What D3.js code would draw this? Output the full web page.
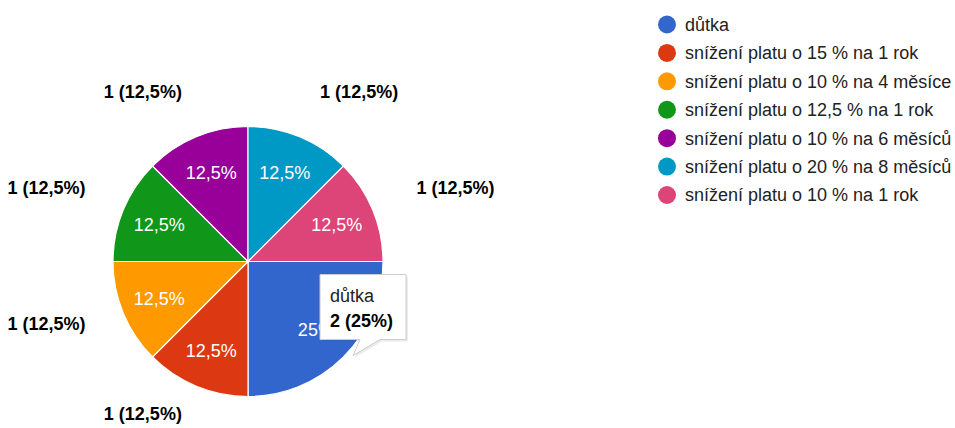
<!DOCTYPE html>
<html>
<head>
<meta charset="utf-8">
<script src="https://cdn.jsdelivr.net/npm/d3@7"></script>
<style>
  html, body { margin: 0; padding: 0; background: #fff; }
  svg { display: block; font-family: Arial, "Liberation Sans", sans-serif; }
</style>
</head>
<body>
<div id="chart"></div>
<script>
// Chart size
const width = 955;
const height = 428;

// Data
const categories = [
    'důtka',
    'snížení platu o 15 % na 1 rok',
    'snížení platu o 10 % na 4 měsíce',
    'snížení platu o 12,5 % na 1 rok',
    'snížení platu o 10 % na 6 měsíců',
    'snížení platu o 20 % na 8 měsíců',
    'snížení platu o 10 % na 1 rok'
];
const counts = [2, 1, 1, 1, 1, 1, 1];
const colours = ['#3366cc', '#dc3912', '#ff9900', '#109618', '#990099', '#0099c6', '#dd4477'];
const hovered = 0; // tooltip shown for "důtka"

const total = d3.sum(counts);
const pctFormat = v => (Math.round(v * 1000) / 10).toString().replace('.', ',') + '%';

// Pie geometry
const cx = 248, cy = 261.5, radius = 135;

const svg = d3.select('#chart').append('svg')
    .attr('width', width)
    .attr('height', height);

const pie = d3.pie()
    .sort(null)
    .value(d => d.count)
    .startAngle(Math.PI / 2)
    .endAngle(Math.PI / 2 + 2 * Math.PI);

const rows = categories.map((c, i) => ({ name: c, count: counts[i], colour: colours[i] }));
const arcs = pie(rows);

const arc = d3.arc().innerRadius(0).outerRadius(radius);
const innerLabelArc = d3.arc().innerRadius(96).outerRadius(96);

const g = svg.append('g').attr('transform', `translate(${cx},${cy})`);

// Slices
g.selectAll('path.slice')
    .data(arcs)
    .enter().append('path')
    .attr('class', 'slice')
    .attr('d', arc)
    .attr('fill', d => d.data.colour)
    .attr('stroke', '#fff')
    .attr('stroke-width', 1.2);

// Percentages inside slices
g.selectAll('text.inner')
    .data(arcs)
    .enter().append('text')
    .attr('class', 'inner')
    .attr('transform', d => `translate(${innerLabelArc.centroid(d)})`)
    .attr('text-anchor', 'middle')
    .attr('dy', '0.36em')
    .attr('fill', '#fff')
    .style('font-size', '18px')
    .text(d => pctFormat(d.data.count / total));

// Outer labels (not for the hovered slice), kept inside the bottom edge
const outerR = 178;
const midAngle = d => (d.startAngle + d.endAngle) / 2;
const maxLabelY = height - cy - 14;
g.selectAll('text.outer')
    .data(arcs.filter((d, i) => i !== hovered))
    .enter().append('text')
    .attr('class', 'outer')
    .attr('x', d => outerR * Math.sin(midAngle(d)) + (Math.sin(midAngle(d)) < 0 ? 2 : 4))
    .attr('y', d => Math.min(-outerR * Math.cos(midAngle(d)) - 6, maxLabelY))
    .attr('dy', '0.36em')
    .attr('text-anchor', d => Math.sin(midAngle(d)) < 0 ? 'end' : 'start')
    .attr('fill', '#000')
    .style('font-size', '18px')
    .style('font-weight', 'bold')
    .text(d => `${d.data.count} (${pctFormat(d.data.count / total)})`);

// Tooltip for hovered slice
const hd = arcs[hovered];
const tipAngle = hd.startAngle + (hd.endAngle - hd.startAngle) * 0.44;
const tip = [cx + radius * Math.sin(tipAngle) + 1, cy - radius * Math.cos(tipAngle) + 8];
const boxW = 86, boxH = 65;
const bx = tip[0] - 33, by = tip[1] - 81;

const tooltip = svg.append('g');
const tipPath = `M${bx},${by} H${bx + boxW} V${by + boxH} H${bx + 60} L${tip[0]},${tip[1]} L${bx + 40},${by + boxH} H${bx} Z`;
tooltip.append('path')
    .attr('d', tipPath)
    .attr('transform', 'translate(2,2)')
    .attr('fill', '#000')
    .attr('opacity', 0.08);
tooltip.append('path')
    .attr('d', tipPath)
    .attr('fill', '#fff')
    .attr('stroke', '#cccccc')
    .attr('stroke-width', 1);
tooltip.append('text')
    .attr('x', bx + 10)
    .attr('y', by + 27)
    .attr('fill', '#222')
    .style('font-size', '18px')
    .text(hd.data.name);
tooltip.append('text')
    .attr('x', bx + 10)
    .attr('y', by + 52)
    .attr('fill', '#000')
    .style('font-size', '18px')
    .style('font-weight', 'bold')
    .text(`${hd.data.count} (${(hd.data.count / total * 100).toString().replace('.', ',')}%)`);

// Legend
const legendY = d3.scalePoint()
    .domain(categories)
    .range([24.5, 195]);

const legend = svg.append('g').attr('transform', 'translate(667,0)');
const items = legend.selectAll('g.item')
    .data(rows)
    .enter().append('g')
    .attr('class', 'item')
    .attr('transform', d => `translate(0,${legendY(d.name)})`);

items.append('circle')
    .attr('r', 9)
    .attr('fill', d => d.colour);

items.append('text')
    .attr('x', 18)
    .attr('dy', '0.36em')
    .attr('fill', '#222')
    .style('font-size', '18px')
    .text(d => d.name);
</script>
</body>
</html>
